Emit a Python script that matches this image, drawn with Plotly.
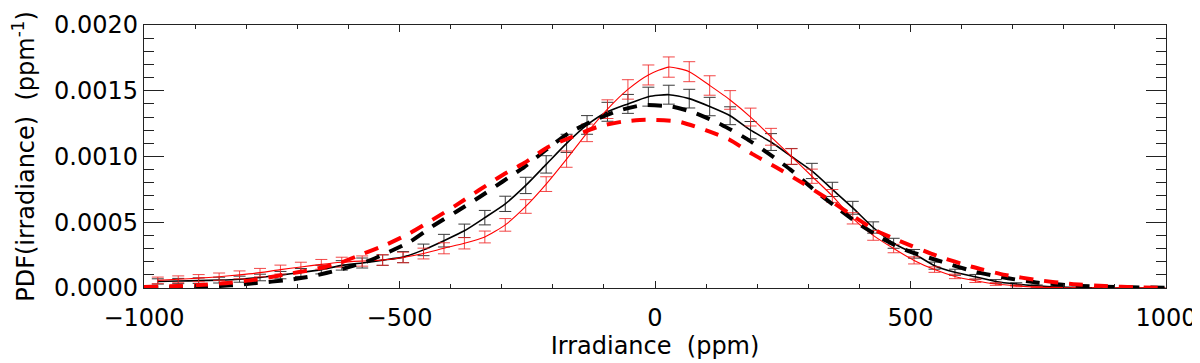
import plotly.graph_objects as go

# ---------------- data ----------------
bin_centers = [
    -973, -933, -893, -853, -813, -773, -733, -693, -653, -613,
    -573, -533, -493, -453, -413, -373, -333, -293, -253, -213,
    -173, -133, -93, -53, -13, 27, 67, 107, 147, 187,
    227, 267, 307, 347, 387, 427, 467, 507, 547, 587,
    627, 667, 707, 747, 787, 827, 867, 907, 947, 987,
]

red_pdf = [
    0.000058, 0.000066, 0.000075, 0.000086, 0.000100, 0.000117, 0.000140, 0.000160, 0.000180, 0.000196,
    0.000205, 0.000213, 0.000232, 0.000262, 0.000302, 0.000340, 0.000388, 0.000480, 0.000620, 0.000790,
    0.000980, 0.001180, 0.001360, 0.001510, 0.001620, 0.001680, 0.001645, 0.001540, 0.001430, 0.001300,
    0.001150, 0.001000, 0.000850, 0.000700, 0.000530, 0.000400, 0.000300, 0.000210, 0.000140, 0.000088,
    0.000055, 0.000030, 0.000016, 0.000007, 0.000003, 0.000001, 0.0, 0.0, 0.0, 0.0,
]

red_err = [
    0.000025, 0.000026, 0.000027, 0.000028, 0.000030, 0.000032, 0.000034, 0.000036, 0.000037, 0.000038,
    0.000039, 0.000040, 0.000040, 0.000041, 0.000042, 0.000043, 0.000045, 0.000048, 0.000052, 0.000056,
    0.000062, 0.000067, 0.000071, 0.000074, 0.000076, 0.000077, 0.000076, 0.000074, 0.000071, 0.000068,
    0.000064, 0.000059, 0.000054, 0.000049, 0.000043, 0.000037, 0.000032, 0.000027, 0.000021, 0.000017,
    0.000013, 0.000010, 0.000007, 0.000005, 0.000003, 0.000002, 0.000001, 0.0, 0.0, 0.0,
]

black_pdf = [
    0.000050, 0.000053, 0.000056, 0.000060, 0.000067, 0.000080, 0.000098, 0.000118, 0.000140, 0.000172,
    0.000190, 0.000212, 0.000235, 0.000290, 0.000360, 0.000435, 0.000535, 0.000640, 0.000780, 0.000940,
    0.001100, 0.001240, 0.001340, 0.001400, 0.001455, 0.001470, 0.001440, 0.001380, 0.001310, 0.001200,
    0.001110, 0.001000, 0.000890, 0.000750, 0.000610, 0.000460, 0.000340, 0.000260, 0.000170, 0.000120,
    0.000085, 0.000050, 0.000030, 0.000016, 0.000007, 0.000003, 0.000001, 0.0, 0.0, 0.0,
]

black_err = [
    0.000020, 0.000020, 0.000021, 0.000022, 0.000023, 0.000025, 0.000028, 0.000030, 0.000033, 0.000036,
    0.000038, 0.000040, 0.000042, 0.000044, 0.000048, 0.000051, 0.000055, 0.000058, 0.000062, 0.000066,
    0.000069, 0.000071, 0.000072, 0.000072, 0.000072, 0.000072, 0.000071, 0.000070, 0.000068, 0.000066,
    0.000064, 0.000061, 0.000058, 0.000054, 0.000049, 0.000043, 0.000038, 0.000033, 0.000027, 0.000023,
    0.000018, 0.000014, 0.000010, 0.000007, 0.000005, 0.000003, 0.000002, 0.000001, 0.0, 0.0,
]

black_dash_x = [
    -1000, -940, -880, -830, -780, -720, -670, -617, -565, -520,
    -480, -435, -389, -344, -298, -256, -210, -168, -116, -70,
    -25, 34, 79, 131, 177, 223, 265, 307, 353, 398,
    450, 490, 561, 626, 691, 750, 834, 932, 1000,
]
black_dash_y = [
    0.000003, 0.000006, 0.000010, 0.000020, 0.000038, 0.000060, 0.000090, 0.000140, 0.000200, 0.000275,
    0.000350, 0.000470, 0.000580, 0.000690, 0.000810, 0.000920, 0.001060, 0.001180, 0.001280, 0.001350,
    0.001390, 0.001379, 0.001330, 0.001240, 0.001140, 0.001020, 0.000900, 0.000760, 0.000620, 0.000490,
    0.000365, 0.000290, 0.000200, 0.000124, 0.000074, 0.000040, 0.000015, 0.000005, 0.000002,
]

red_dash_x = [
    -1000, -936, -884, -832, -780, -728, -670, -617, -572, -526,
    -480, -435, -389, -344, -298, -256, -210, -162, -109, -64,
    -18, 47, 99, 145, 190, 236, 288, 333, 379, 431,
    477, 555, 620, 685, 750, 815, 880, 945, 1000,
]
red_dash_y = [
    0.000008, 0.000015, 0.000025, 0.000040, 0.000065, 0.000100, 0.000140, 0.000190, 0.000260, 0.000330,
    0.000416, 0.000520, 0.000630, 0.000745, 0.000860, 0.000950, 0.001070, 0.001150, 0.001230, 0.001265,
    0.001280, 0.001265, 0.001200, 0.001130, 0.001020, 0.000920, 0.000800, 0.000690, 0.000570, 0.000440,
    0.000360, 0.000240, 0.000162, 0.000100, 0.000060, 0.000030, 0.000015, 0.000005, 0.000002,
]

x_ticks = [-1000, -500, 0, 500, 1000]
y_ticks = [0.0, 0.0005, 0.0010, 0.0015, 0.0020]
y_tick_text = ["0.0000", "0.0005", "0.0010", "0.0015", "0.0020"]

# ---------------- figure ----------------
FONT = "DejaVu Sans"
FS = 24
fig = go.Figure()

fig.add_trace(go.Scatter(
    x=bin_centers, y=black_pdf, mode="lines",
    line=dict(color="black", width=1.6, shape="spline", smoothing=0.6),
    error_y=dict(type="data", array=black_err, visible=True,
                 color="#3a3a3a", thickness=1, width=6),
    showlegend=False,
))
fig.add_trace(go.Scatter(
    x=bin_centers, y=red_pdf, mode="lines",
    line=dict(color="#ff0000", width=1.1, shape="spline", smoothing=0.6),
    error_y=dict(type="data", array=red_err, visible=True,
                 color="rgba(240,40,40,0.85)", thickness=1, width=6),
    showlegend=False,
))
fig.add_trace(go.Scatter(
    x=black_dash_x, y=black_dash_y, mode="lines",
    line=dict(color="black", width=4, dash="14px,11px", shape="spline", smoothing=0.6),
    showlegend=False,
))
fig.add_trace(go.Scatter(
    x=red_dash_x, y=red_dash_y, mode="lines",
    line=dict(color="#ff0000", width=4, dash="14px,11px", shape="spline", smoothing=0.6),
    showlegend=False,
))

# the page body adds an 8px offset; the figure is sized to compensate
fig.update_layout(
    width=1192, height=355,
    margin=dict(l=136, r=34, t=17, b=75, autoexpand=False),
    paper_bgcolor="white", plot_bgcolor="white",
    font=dict(family=FONT, size=FS, color="black"),
    showlegend=False,
)

fig.update_xaxes(
    automargin=False,
    range=[-1000, 1000],
    tickmode="array", tickvals=x_ticks,
    ticks="inside", ticklen=7, tickwidth=1.2, tickcolor="#222",
    minor=dict(dtick=100, ticks="inside", ticklen=4, tickwidth=1, tickcolor="#222"),
    showline=True, linecolor="#222", linewidth=1.3, mirror="allticks",
    showgrid=False, zeroline=False,
    tickfont=dict(family=FONT, size=FS),
    ticklabelstandoff=8,
    title=dict(text="Irradiance  (ppm)", font=dict(family=FONT, size=FS), standoff=4),
)
fig.update_yaxes(
    automargin=False,
    range=[0, 0.002],
    tickmode="array", tickvals=y_ticks, ticktext=y_tick_text,
    ticks="inside", ticklen=20, tickwidth=1.2, tickcolor="#222",
    minor=dict(dtick=0.0001, ticks="inside", ticklen=10, tickwidth=1, tickcolor="#222"),
    showline=True, linecolor="#222", linewidth=1.3, mirror="allticks",
    showgrid=False, zeroline=False,
    tickfont=dict(family=FONT, size=FS),
    title=dict(text="PDF(irradiance)  (ppm<sup>-1</sup>)", font=dict(family=FONT, size=FS), standoff=14),
)

fig.write_html("out.html")
